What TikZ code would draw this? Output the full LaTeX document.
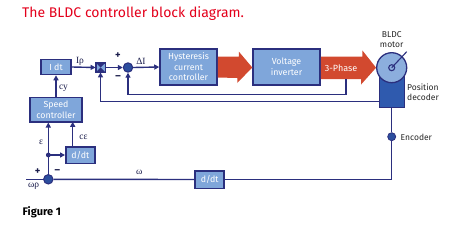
\documentclass[tikz,border=0pt]{standalone}
\usepackage{fontspec}
\setmainfont{Fira Sans}
\newfontfamily\grk{Liberation Serif}
\usetikzlibrary{arrows.meta,calc}
\definecolor{navy}{HTML}{2B2F7E}
\definecolor{boxfill}{HTML}{7FA6DA}
\definecolor{redarrow}{HTML}{D2492F}
\definecolor{titlered}{HTML}{E3001B}
\definecolor{decoder}{HTML}{2F5AAE}
\definecolor{dotfill}{HTML}{2C4E9E}
\definecolor{motorfill}{HTML}{8CAEDD}
\begin{document}
\begin{tikzpicture}[x=1pt,y=-1pt,
  blk/.style={draw=navy, line width=1.5pt, fill=boxfill, text=white, font=\fontsize{8.8}{10.6}\selectfont, align=center, inner sep=0pt},
  sumc/.style={circle, draw=navy, line width=1pt, fill=dotfill, minimum size=9.4pt, inner sep=0pt},
  wire/.style={draw=navy, line width=1.4pt},
  arr/.style={wire, -{Triangle[length=5pt,width=5pt]}},
  lbl/.style={font=\grk\fontsize{9.5}{10}\selectfont, text=navy!60!black, inner sep=0pt},
  pm/.style={font=\bfseries\fontsize{10.5}{11}\selectfont, text=navy!60!black, inner sep=0pt},
  side/.style={font=\fontsize{8.5}{10}\selectfont, text=black!85, align=left, inner sep=0pt},
  redarr/.style={fill=redarrow, draw=none}]
\useasboundingbox (0,0) rectangle (450,233);

% title
\node[anchor=west, text=titlered, font=\fontsize{14}{16}\selectfont, inner sep=0pt] (title) at (22,14) {The BLDC controller block diagram.};

% blocks
\node[blk, minimum width=30pt, minimum height=15pt] (idt) at (56,67) {I dt};
\node[draw=navy, line width=0.8pt, fill=boxfill, minimum size=9pt, inner sep=0pt] (mult) at (100.5,67.5) {};
\fill[navy] (mult.north west) -- (mult.center) -- (mult.north east) -- cycle;
\fill[navy] (mult.south west) -- (mult.center) -- (mult.south east) -- cycle;
\draw[navy, line width=0.8pt] (mult.north west) rectangle (mult.south east);
\node[sumc] (sum1) at (128,67.5) {};
\node[blk, minimum width=57pt, minimum height=36pt] (hcc) at (188.5,67) {Hysteresis\\current\\controller};
\node[blk, minimum width=67pt, minimum height=36pt] (vinv) at (286.5,67) {Voltage\\inverter};
\node[blk, minimum width=52pt, minimum height=24.5pt] (speed) at (56,109.5) {Speed\\controller};
\node[blk, minimum width=29pt, minimum height=16.5pt] (ddta) at (80.3,155) {d/dt};
\node[sumc] (sum2) at (48.3,179.3) {};
\node[blk, minimum width=29pt, minimum height=17.5pt] (ddtb) at (209.7,179.5) {d/dt};

% motor + decoder
\node[draw=navy, line width=1.3pt, fill=decoder, minimum width=25pt, minimum height=39.5pt, inner sep=0pt] (dec) at (391.7,87.5) {};
\node[circle, draw=navy, line width=1.3pt, fill=motorfill, minimum size=30pt, inner sep=0pt] (motor) at (391.7,67.7) {};
\node[circle, draw=navy, line width=1.1pt, minimum size=6pt, inner sep=0pt] (shaft) at (motor.center) {};
\coordinate (shaftend) at (406.7,51.7);
\draw[navy, line width=1.1pt] (motor.center) -- (shaftend);
\node[circle, draw=navy, line width=0.8pt, fill=dotfill, minimum size=8pt, inner sep=0pt] (enc) at (391.7,136.7) {};

% red power arrows
\fill[redarr] ($(hcc.east)+(0,-10.5)$) -- ++(21,0) -- ++(0,-5) -- ($(vinv.west)+(0,0.5)$) -- ++(-15,15.5) -- ++(0,-5) -- ($(hcc.east)+(0,10.5)$) -- cycle;
\fill[redarr] ($(vinv.east)+(0,-10.5)$) -- ++(41.7,0) -- ++(0,-6) -- ($(motor.west)$) -- ++(-15,16.8) -- ++(0,-5.5) -- ($(vinv.east)+(0,12)$) -- cycle;
\node[text=white, font=\fontsize{9}{10}\selectfont, inner sep=0pt] (ph) at (341,68) {3-Phase};

% signal connectors
\draw[arr] (idt.east) -- (mult.west);
\draw[arr] (mult.east) -- (sum1.west);
\draw[arr] (sum1.east) -- (hcc.west);
\coordinate (fb1) at (346,79);
\draw[arr] (fb1) -- (346,94.3) -- (sum1.south |- 0,94.3) -- (sum1.south);
\coordinate (fb2) at (dec.west |- 0,101.7);
\draw[arr] (fb2) -- (mult.south |- 0,101.7) -- (mult.south);
\draw[arr] (speed.north) -- (idt.south);
\coordinate (eps) at (48.3,155);
\draw[arr] (sum2.north) -- (sum2.north |- speed.south);
\fill[navy] (eps) circle (2.4pt);
\draw[arr] (eps) -- (ddta.west);
\draw[arr] (72.7,146.5) -- (72.7,121.8);
\coordinate (wp) at (26,179.3);
\draw[wire] (wp) -- (sum2.west);
\draw[wire] (sum2.east) -- (ddtb.west);
\draw[wire] (ddtb.east) -- (enc.south |- ddtb.east) -- (enc.south);
\draw[wire] (enc.north) -- (dec.south);

% labels
\node[lbl] at (80,61) {Iρ};
\node[pm] at (118,56) {+};
\node[pm] at (118,78) {–};
\node[lbl] at (141,61) {ΔI};
\node[lbl] at (63.5,88) {cy};
\node[lbl] at (41,142.7) {ε};
\node[lbl] at (83.5,137.3) {cε};
\node[pm] at (37.7,171.7) {+};
\node[pm] at (57.3,171.7) {–};
\node[lbl] at (33.5,186.7) {ωρ};
\node[lbl] at (139.3,172.3) {ω};
\node[side, align=center] at (391.7,39.5) {BLDC\\motor};
\node[side, anchor=west] at (407,92) {Position\\decoder};
\node[side, anchor=west] at (400.5,137) {Encoder};
\node[anchor=west, font=\bfseries\fontsize{11}{12}\selectfont, inner sep=0pt] (fig) at (22.5,212.7) {Figure 1};
\end{tikzpicture}
\end{document}
